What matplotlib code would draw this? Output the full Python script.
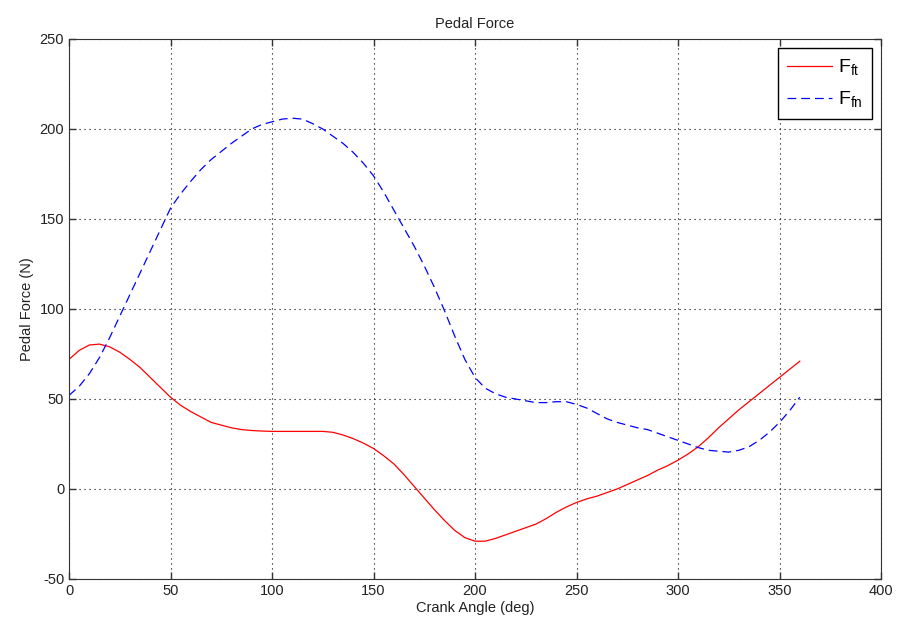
import matplotlib
matplotlib.use('Agg')
import matplotlib.pyplot as plt

# crank angle (deg) and the two pedal force components (N), read every 5 deg
angle = list(range(0, 365, 5))
f_ft = [72, 77, 80, 80.5, 79, 76, 72, 67.5, 62, 56.5, 51, 46.5, 43, 40, 37, 35.5,
        34, 33, 32.5, 32.2, 32, 32, 32, 32, 32, 32, 31.5, 30, 28, 25.5,
        22.5, 18.5, 14, 8, 1.5, -5, -11.5, -17.5, -23, -27, -29, -29, -27.5, -25.5,
        -23.5, -21.5, -19.5, -16.5, -13, -10, -7.5, -5.5, -4, -2, 0, 2.5, 5, 7.5,
        10.5, 13, 16, 19.5, 23.5, 28.5, 34, 39, 44, 48.5, 53, 57.5, 62, 66.5, 71]
f_fn = [52, 57, 64, 73, 84, 96, 108, 120, 132, 144, 156, 164, 171, 177.5, 183, 187.5,
        192, 196, 200, 202.5, 204, 205.5, 206, 205.5, 203, 200, 196, 192, 187, 181,
        174, 165, 155, 145, 135, 124, 112, 99, 85, 72, 62, 56, 53, 51,
        50, 49, 48, 48, 48.5, 48.5, 47, 45, 42, 39, 37, 35.5, 34, 33,
        31, 29, 27, 25, 23, 21.5, 21, 20.5, 21.5, 23.5, 27, 31.5, 37, 43.5, 51]

x_ticks = [0, 50, 100, 150, 200, 250, 300, 350, 400]
y_ticks = [-50, 0, 50, 100, 150, 200, 250]

plt.rcParams['font.family'] = ['Liberation Sans', 'DejaVu Sans']
plt.rcParams['font.size'] = 10.5
plt.rcParams['axes.unicode_minus'] = False

fig = plt.figure(figsize=(8.99, 6.28), dpi=100)
ax = fig.add_axes([69 / 899, 49 / 628, 812 / 899, 540 / 628])

ax.plot(angle, f_ft, color='red', lw=0.9, label='F$_{\\mathregular{ft}}$')
ax.plot(angle, f_fn, color='blue', lw=0.9, ls=(0, (7, 4)), label='F$_{\\mathregular{fn}}$')

ax.set_xlim(0, 400)
ax.set_ylim(-50, 250)
ax.set_xticks(x_ticks)
ax.set_yticks(y_ticks)
ax.grid(True, color='black', ls=(0, (1, 3.5)), lw=0.8)
ax.tick_params(direction='in', top=True, right=True, length=5, width=1, colors='#333333',
               labelcolor='#222222', labelsize=10.5)
for sp in ax.spines.values():
    sp.set_color('#333333')

ax.set_title('Pedal Force', fontsize=10.5, color='#222222', pad=8)
ax.set_xlabel('Crank Angle (deg)', fontsize=10.5, color='#222222', labelpad=2)
ax.set_ylabel('Pedal Force (N)', fontsize=10.5, color='#222222', labelpad=4)

leg = ax.legend(loc='upper right', fontsize=14, handlelength=2.3, handletextpad=0.3,
                fancybox=False, edgecolor='black', framealpha=1, borderaxespad=0.45,
                labelspacing=0.6, borderpad=0.5)
leg.get_frame().set_linewidth(1.0)

fig.savefig('out.png', dpi=100)
